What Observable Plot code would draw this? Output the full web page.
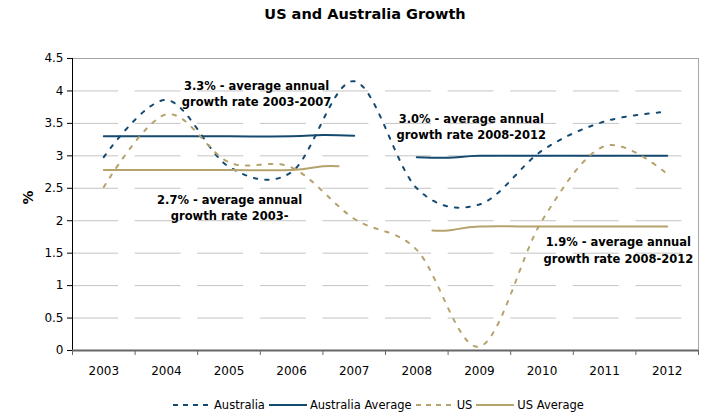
<!DOCTYPE html>
<html>
<head>
<meta charset="utf-8">
<script src="https://cdn.jsdelivr.net/npm/d3@7"></script>
<script src="https://cdn.jsdelivr.net/npm/@observablehq/plot@0.6"></script>
<style>
  html, body { margin: 0; padding: 0; background: #fff; }
  #wrap { position: relative; width: 707px; height: 412px; font-family: "DejaVu Sans", sans-serif; }
  #title { position: absolute; top: 6px; left: 365px; transform: translateX(-50%); font-weight: bold; font-size: 14.5px; white-space: nowrap; color: #000; }
  #chart { position: absolute; top: 40px; left: 0; }
  #legend { position: absolute; top: 397px; left: 173px; display: flex; align-items: center; font-size: 11.5px; color: #000; white-space: nowrap; height: 16px; }
  #legend .item { display: flex; align-items: center; margin-right: 4px; }
  #legend svg { margin-right: 3px; }
</style>
</head>
<body>
<div id="wrap">
  <div id="title">US and Australia Growth</div>
  <div id="chart"></div>
  <div id="legend"></div>
</div>
<script>
// ---- data ----
const years = [2003, 2004, 2005, 2006, 2007, 2008, 2009, 2010, 2011, 2012];
const australia = [2.98, 3.86, 2.83, 2.75, 4.15, 2.5, 2.25, 3.08, 3.53, 3.68];
const us = [2.52, 3.64, 2.9, 2.82, 2.03, 1.55, 0.06, 2.0, 3.15, 2.72];

const ausAvgYears = [2003, 2004, 2005, 2006, 2006.5, 2007, 2008, 2008.5, 2009, 2010, 2011, 2012];
const ausAvgValues = [3.3, 3.3, 3.3, 3.3, 3.32, 3.31, 2.98, 2.97, 3.0, 3.0, 3.0, 3.0];
const ausAvgPeriods = ["2003-2007", "2003-2007", "2003-2007", "2003-2007", "2003-2007", "2003-2007",
                       "2008-2012", "2008-2012", "2008-2012", "2008-2012", "2008-2012", "2008-2012"];

const usAvgYears = [2003, 2004, 2005, 2006, 2006.5, 2006.75, 2008.25, 2008.5, 2009, 2010, 2011, 2012];
const usAvgValues = [2.78, 2.78, 2.78, 2.78, 2.84, 2.84, 1.85, 1.85, 1.91, 1.91, 1.91, 1.91];
const usAvgPeriods = ["2003-2007", "2003-2007", "2003-2007", "2003-2007", "2003-2007", "2003-2007",
                      "2008-2012", "2008-2012", "2008-2012", "2008-2012", "2008-2012", "2008-2012"];

const yTicks = [0, 0.5, 1, 1.5, 2, 2.5, 3, 3.5, 4, 4.5];
const gridValues = [0.5, 1, 1.5, 2, 2.5, 3, 3.5, 4];
const xBoundaries = [2002.5, 2003.5, 2004.5, 2005.5, 2006.5, 2007.5, 2008.5, 2009.5, 2010.5, 2011.5, 2012.5];

const seriesNames = ["Australia", "Australia Average", "US", "US Average"];
const annotations = [
  "3.3% - average annual\ngrowth rate 2003-2007",
  "2.7% - average annual\ngrowth rate 2003-",
  "3.0% - average annual\ngrowth rate 2008-2012",
  "1.9% - average annual\ngrowth rate 2008-2012"
];

// ---- styles ----
const AUS = "#144a70";
const USC = "#b5a26c";

const ausData = years.map((y, i) => ({year: y, value: australia[i]}));
const usData = years.map((y, i) => ({year: y, value: us[i]}));
const ausAvgData = ausAvgYears.map((y, i) => ({year: y, value: ausAvgValues[i], period: ausAvgPeriods[i]}));
const usAvgData = usAvgYears.map((y, i) => ({year: y, value: usAvgValues[i], period: usAvgPeriods[i]}));

const annText = (i, x, y) => Plot.text([annotations[i]], {
  x: () => x, y: () => y, text: d => d,
  fontWeight: "bold", fontSize: 11.5, lineHeight: 1.42, fill: "#000"
});

const smooth = {curve: "cardinal", tension: 0};

const chart = Plot.plot({
  width: 707,
  height: 345,
  marginTop: 18,
  marginBottom: 35,
  marginLeft: 72,
  marginRight: 9,
  x: {type: "linear", domain: [2002.5, 2012.5]},
  y: {domain: [0, 4.5]},
  style: {fontFamily: "DejaVu Sans", fontSize: "12px", color: "#000", background: "transparent", overflow: "visible"},
  marks: [
    Plot.ruleY(gridValues, {stroke: "#c4c4c4", strokeWidth: 1, strokeDasharray: "46,16.6"}),
    Plot.ruleY([4.5], {stroke: "#a6a6a6", strokeWidth: 1}),
    Plot.ruleX([2012.5], {stroke: "#a6a6a6", strokeWidth: 1}),
    Plot.axisY({ticks: yTicks, tickSize: 5, tickPadding: 4, tickFormat: d3.format("~g"), label: null, fontSize: 12}),
    Plot.axisX({ticks: xBoundaries, tickSize: 5, tickFormat: () => "", label: null, stroke: "#666"}),
    Plot.axisX({ticks: years, tickSize: 0, tickPadding: 16, tickFormat: d => String(d), label: null, fontSize: 12}),
    Plot.ruleX([2002.5], {stroke: "#000", strokeWidth: 1}),
    Plot.ruleY([0], {stroke: "#666", strokeWidth: 2}),
    Plot.text(["%"], {frameAnchor: "left", dx: -44, rotate: -90, text: d => d, fontWeight: "bold", fontSize: 14, fill: "#000"}),
    Plot.line(ausData, {x: "year", y: "value", stroke: AUS, strokeWidth: 2, strokeDasharray: "3.5,8", ...smooth}),
    Plot.line(ausAvgData, {x: "year", y: "value", z: "period", stroke: AUS, strokeWidth: 2, ...smooth}),
    Plot.line(usData, {x: "year", y: "value", stroke: USC, strokeWidth: 2, strokeDasharray: "3.5,8", ...smooth}),
    Plot.line(usAvgData, {x: "year", y: "value", z: "period", stroke: USC, strokeWidth: 2, ...smooth}),
    annText(0, 2005.44, 3.97),
    annText(1, 2005.01, 2.22),
    annText(2, 2008.87, 3.46),
    annText(3, 2011.22, 1.56)
  ]
});
document.getElementById("chart").appendChild(chart);

// ---- legend ----
const legendStyles = [
  {color: AUS, dash: "5,5"},
  {color: AUS, dash: null},
  {color: USC, dash: "5,5"},
  {color: USC, dash: null}
];
const legend = document.getElementById("legend");
seriesNames.forEach((name, i) => {
  const item = document.createElement("div");
  item.className = "item";
  const s = legendStyles[i];
  item.innerHTML = `<svg width="38" height="8"><line x1="0" y1="4" x2="38" y2="4" stroke="${s.color}" stroke-width="2" ${s.dash ? `stroke-dasharray="${s.dash}"` : ""}/></svg><span>${name}</span>`;
  legend.appendChild(item);
});
</script>
</body>
</html>
